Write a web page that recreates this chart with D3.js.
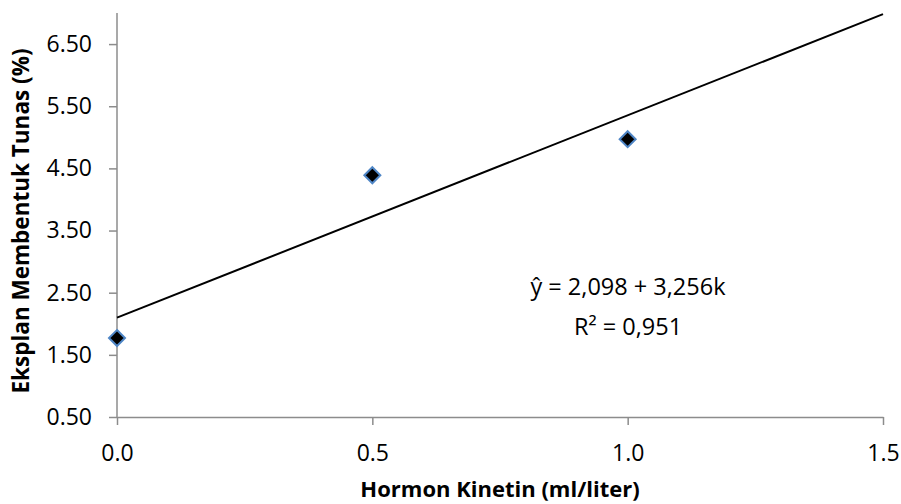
<!DOCTYPE html>
<html>
<head>
<meta charset="utf-8">
<script src="https://cdn.jsdelivr.net/npm/d3@7"></script>
<style>
  body { margin: 0; background: #fff; }
  text { font-family: "Open Sans", "Liberation Sans", sans-serif; fill: #000; }
</style>
</head>
<body>
<div id="chart"></div>
<script>
// data
var kinetin = [0.0, 0.5, 1.0];
var tunas = [1.77, 4.39, 4.97];
var xTicks = [0.0, 0.5, 1.0, 1.5];
var yTicks = [0.5, 1.5, 2.5, 3.5, 4.5, 5.5, 6.5];
var trend = { a: 2.098, b: 3.256 };
var eqLines = ["ŷ = 2,098 + 3,256k", "R² = 0,951"];

var W = 901, H = 504,
    margin = { top: 13, right: 18, bottom: 87, left: 117 },
    width = W - margin.left - margin.right,
    height = H - margin.top - margin.bottom;

var x = d3.scaleLinear().domain([0, 1.5]).range([0, width]);
var y = d3.scaleLinear().domain([0.5, 7.0]).range([height, 0]);

var svg = d3.select("#chart").append("svg")
    .attr("width", W)
    .attr("height", H)
    .append("g")
    .attr("transform", "translate(" + margin.left + "," + margin.top + ")");

// axes
var gx = svg.append("g")
    .attr("transform", "translate(0," + height + ")")
    .call(d3.axisBottom(x).tickValues(xTicks).tickFormat(d3.format(".1f"))
        .tickSizeInner(8).tickSizeOuter(0).tickPadding(20));

var gy = svg.append("g")
    .call(d3.axisLeft(y).tickValues(yTicks).tickFormat(d3.format(".2f"))
        .tickSizeInner(8).tickSizeOuter(0).tickPadding(17));

[gx, gy].forEach(function (g) {
    g.select(".domain").attr("stroke", "#8c8c8c").attr("stroke-width", 1.5);
    g.selectAll(".tick line").attr("stroke", "#8c8c8c").attr("stroke-width", 1.5);
    g.selectAll(".tick text")
        .attr("font-size", 23)
        .style("font-family", "'Open Sans', sans-serif")
        .attr("fill", "#000");
});
gy.select(".domain").attr("d", "M0," + y(7.0) + "V" + height);

// trendline
svg.append("line")
    .attr("x1", x(0)).attr("y1", y(trend.a))
    .attr("x2", x(1.5)).attr("y2", y(trend.a + trend.b * 1.5))
    .attr("stroke", "#000")
    .attr("stroke-width", 2);

// points
var pts = kinetin.map(function (k, i) { return { k: k, v: tunas[i] }; });
var r = 8;
svg.selectAll(".pt")
    .data(pts)
    .enter()
    .append("path")
    .attr("class", "pt")
    .attr("d", "M0," + (-r) + "L" + r + ",0L0," + r + "L" + (-r) + ",0Z")
    .attr("transform", function (d) { return "translate(" + x(d.k) + "," + y(d.v) + ")"; })
    .attr("fill", "#000")
    .attr("stroke", "#4f86c6")
    .attr("stroke-width", 2);

// equation
svg.append("text")
    .attr("text-anchor", "middle")
    .attr("font-size", 23.5)
    .selectAll("tspan")
    .data(eqLines)
    .enter()
    .append("tspan")
    .attr("x", 628 - margin.left)
    .attr("y", function (d, i) { return 295 - margin.top + i * 40; })
    .text(function (d) { return d; });

// axis titles
svg.append("text")
    .attr("x", width / 2)
    .attr("y", 497 - margin.top)
    .attr("text-anchor", "middle")
    .attr("font-size", 22)
    .attr("font-weight", "bold")
    .text("Hormon Kinetin (ml/liter)");

svg.append("text")
    .attr("transform", "translate(" + (29 - margin.left) + "," + (221 - margin.top) + ") rotate(-90)")
    .attr("text-anchor", "middle")
    .attr("font-size", 22.5)
    .attr("font-weight", "bold")
    .text("Eksplan Membentuk Tunas (%)");
</script>
</body>
</html>
